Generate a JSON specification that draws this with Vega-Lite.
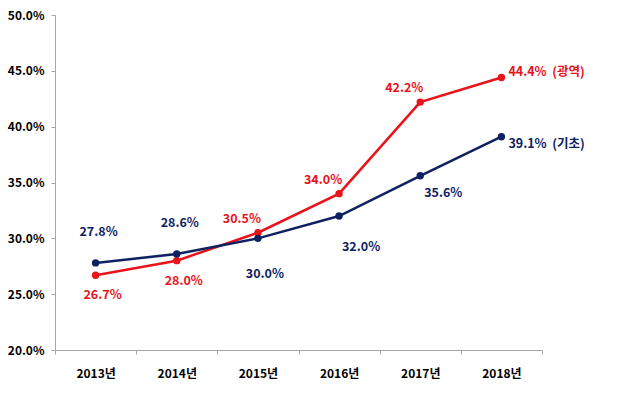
{
  "$schema": "https://vega.github.io/schema/vega-lite/v6.json",
  "width": 487,
  "height": 335,
  "autosize": {"type": "none"},
  "padding": {"left": 55, "top": 15, "right": 87, "bottom": 48},
  "background": "white",
  "config": {
    "view": {"stroke": null},
    "font": "Noto Sans CJK KR"
  },
  "data": {
    "values": [
      {"year": "2013년", "series": "광역", "value": 0.267},
      {"year": "2014년", "series": "광역", "value": 0.280},
      {"year": "2015년", "series": "광역", "value": 0.305},
      {"year": "2016년", "series": "광역", "value": 0.340},
      {"year": "2017년", "series": "광역", "value": 0.422},
      {"year": "2018년", "series": "광역", "value": 0.444},
      {"year": "2013년", "series": "기초", "value": 0.278},
      {"year": "2014년", "series": "기초", "value": 0.286},
      {"year": "2015년", "series": "기초", "value": 0.300},
      {"year": "2016년", "series": "기초", "value": 0.320},
      {"year": "2017년", "series": "기초", "value": 0.356},
      {"year": "2018년", "series": "기초", "value": 0.391}
    ]
  },
  "transform": [
    {"calculate": "format(datum.value, '.1%') + (datum.year == '2018년' ? '\u00a0\u00a0(' + datum.series + ')' : '')", "as": "label"}
  ],
  "encoding": {
    "x": {
      "field": "year", "type": "nominal", "sort": null,
      "scale": {"type": "band", "paddingInner": 0, "paddingOuter": 0},
      "axis": {
        "title": null, "labelAngle": 0, "grid": false,
        "domainColor": "#a6a6a6", "tickColor": "#a6a6a6", "tickSize": 4,
        "tickBand": "extent", "labelPadding": 14,
        "labelFont": "Noto Sans CJK KR", "labelFontWeight": "bold", "labelFontSize": 12, "labelColor": "#000000"
      }
    },
    "y": {
      "field": "value", "type": "quantitative",
      "scale": {"domain": [0.2, 0.5], "nice": false, "zero": false},
      "axis": {
        "title": null, "format": ".1%", "values": [0.2, 0.25, 0.3, 0.35, 0.4, 0.45, 0.5],
        "grid": false, "domainColor": "#a6a6a6", "tickColor": "#a6a6a6", "tickSize": 4,
        "labelPadding": 7,
        "labelFont": "Noto Sans CJK KR", "labelFontWeight": "bold", "labelFontSize": 12, "labelColor": "#000000"
      }
    },
    "color": {
      "field": "series", "type": "nominal",
      "scale": {"domain": ["광역", "기초"], "range": ["#e8131b", "#0e2262"]},
      "legend": null
    }
  },
  "layer": [
    {"mark": {"type": "line", "strokeWidth": 2.5}},
    {"mark": {"type": "point", "filled": true, "size": 55, "opacity": 1}},
    {
      "transform": [{"filter": "datum.series == '기초' && (datum.year == '2013년' || datum.year == '2014년')"}],
      "mark": {"type": "text", "dx": 3, "dy": -31, "fontWeight": "bold", "fontSize": 12.5},
      "encoding": {"text": {"field": "label"}}
    },
    {
      "transform": [{"filter": "datum.series == '광역' && (datum.year == '2013년' || datum.year == '2014년')"}],
      "mark": {"type": "text", "dx": 7, "dy": 20, "fontWeight": "bold", "fontSize": 12.5},
      "encoding": {"text": {"field": "label"}}
    },
    {
      "transform": [{"filter": "datum.series == '광역' && (datum.year == '2015년' || datum.year == '2016년' || datum.year == '2017년')"}],
      "mark": {"type": "text", "dx": -16, "dy": -14, "fontWeight": "bold", "fontSize": 12.5},
      "encoding": {"text": {"field": "label"}}
    },
    {
      "transform": [{"filter": "datum.series == '기초' && datum.year == '2015년'"}],
      "mark": {"type": "text", "dx": 7, "dy": 36, "fontWeight": "bold", "fontSize": 12.5},
      "encoding": {"text": {"field": "label"}}
    },
    {
      "transform": [{"filter": "datum.series == '기초' && datum.year == '2016년'"}],
      "mark": {"type": "text", "dx": 22, "dy": 31, "fontWeight": "bold", "fontSize": 12.5},
      "encoding": {"text": {"field": "label"}}
    },
    {
      "transform": [{"filter": "datum.series == '기초' && datum.year == '2017년'"}],
      "mark": {"type": "text", "dx": 23, "dy": 17, "fontWeight": "bold", "fontSize": 12.5},
      "encoding": {"text": {"field": "label"}}
    },
    {
      "transform": [{"filter": "datum.series == '광역' && datum.year == '2018년'"}],
      "mark": {"type": "text", "align": "left", "dx": 7, "dy": -6, "fontWeight": "bold", "fontSize": 12.5},
      "encoding": {"text": {"field": "label"}}
    },
    {
      "transform": [{"filter": "datum.series == '기초' && datum.year == '2018년'"}],
      "mark": {"type": "text", "align": "left", "dx": 7, "dy": 7, "fontWeight": "bold", "fontSize": 12.5},
      "encoding": {"text": {"field": "label"}}
    }
  ]
}
